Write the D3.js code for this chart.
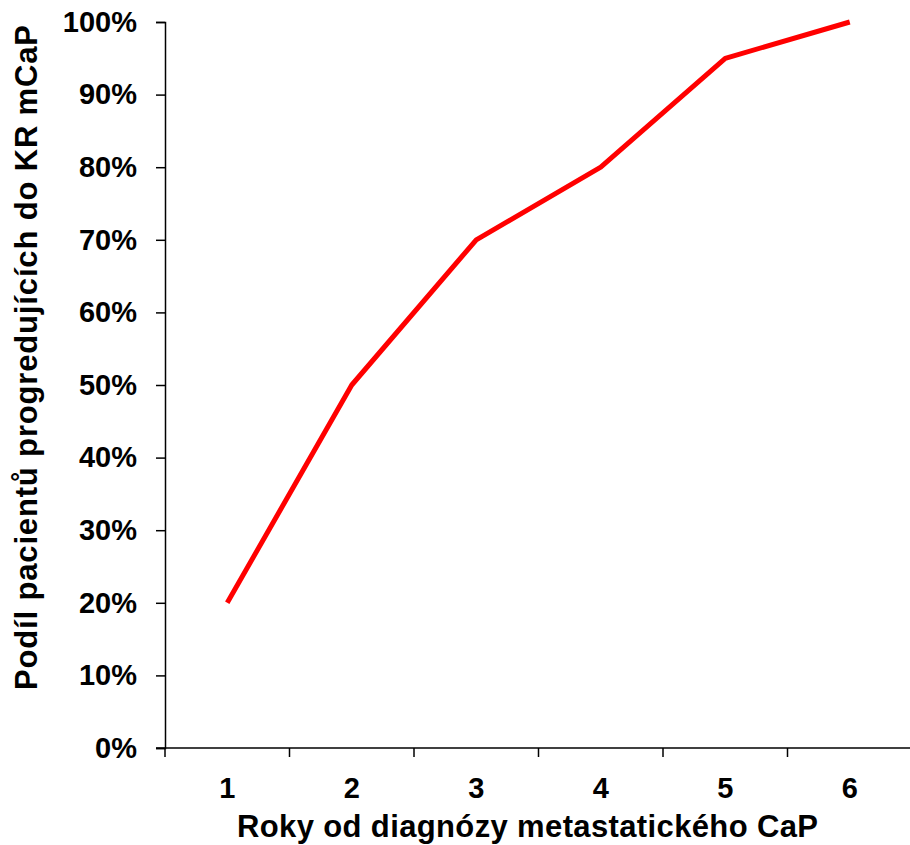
<!DOCTYPE html>
<html>
<head>
<meta charset="utf-8">
<script src="https://cdn.jsdelivr.net/npm/d3@7"></script>
<style>
  html, body { margin: 0; padding: 0; background: #fff; }
  svg { display: block; font-family: "Liberation Sans", Arial, sans-serif; font-weight: bold; }
</style>
</head>
<body>
<svg id="chart" width="910" height="845"></svg>
<script>
// Years since diagnosis and share of patients progressing to CRPC
const years = ["1", "2", "3", "4", "5", "6"];
const share = [0.20, 0.50, 0.70, 0.80, 0.95, 1.00];
const yTicks = [0, 0.1, 0.2, 0.3, 0.4, 0.5, 0.6, 0.7, 0.8, 0.9, 1.0];
const xTitle = "Roky od diagnózy metastatického CaP";
const yTitle = "Podíl pacientů progredujících do KR mCaP";

const svg = d3.select("#chart");
const plotLeft = 165, plotRight = 912, plotTop = 22, plotBottom = 748;

const x = d3.scaleBand().domain(years).range([plotLeft, plotRight]).paddingInner(0).paddingOuter(0);
const y = d3.scaleLinear().domain([0, 1]).range([plotBottom, plotTop]);

// Y axis
const yAxis = svg.append("g")
  .attr("transform", `translate(${plotLeft},0)`)
  .call(d3.axisLeft(y).tickValues(yTicks).tickFormat(d3.format(".0%")).tickSize(9).tickPadding(19));
yAxis.select(".domain").attr("stroke", "#000").attr("stroke-width", 1.5);
yAxis.selectAll(".tick line").attr("stroke", "#000").attr("stroke-width", 1.5);
yAxis.selectAll(".tick text").attr("font-size", 29).attr("font-weight", "bold")
  .attr("font-family", "Liberation Sans, Arial, sans-serif").attr("fill", "#000");

// X axis: ticks sit on category boundaries, labels at category centres
const xg = svg.append("g").attr("transform", `translate(0,${plotBottom})`);
xg.append("line").attr("x1", plotLeft - 9).attr("x2", 910).attr("y1", 0).attr("y2", 0)
  .attr("stroke", "#000").attr("stroke-width", 1.5);
const bounds = years.map(d => x(d));
xg.selectAll("line.tk").data(bounds).join("line").attr("class", "tk")
  .attr("x1", d => d).attr("x2", d => d).attr("y1", 0).attr("y2", 9)
  .attr("stroke", "#000").attr("stroke-width", 1.5);
xg.selectAll("text").data(years).join("text")
  .attr("x", d => x(d) + x.bandwidth() / 2)
  .attr("y", 50)
  .attr("text-anchor", "middle")
  .attr("font-size", 29)
  .text(d => d);

// Series line
const line = d3.line().x((d, i) => x(years[i]) + x.bandwidth() / 2).y(d => y(d));
svg.append("path").datum(share).attr("d", line)
  .attr("fill", "none").attr("stroke", "#ff0000").attr("stroke-width", 5)
  .attr("stroke-linejoin", "round");

// Axis titles
svg.append("text").attr("x", 527.5).attr("y", 837).attr("text-anchor", "middle")
  .attr("font-size", 31).attr("textLength", 581).attr("lengthAdjust", "spacing").text(xTitle);
svg.append("text").attr("transform", `translate(37,357.5) rotate(-90)`).attr("text-anchor", "middle")
  .attr("font-size", 31).attr("textLength", 665).attr("lengthAdjust", "spacing").text(yTitle);
</script>
</body>
</html>
